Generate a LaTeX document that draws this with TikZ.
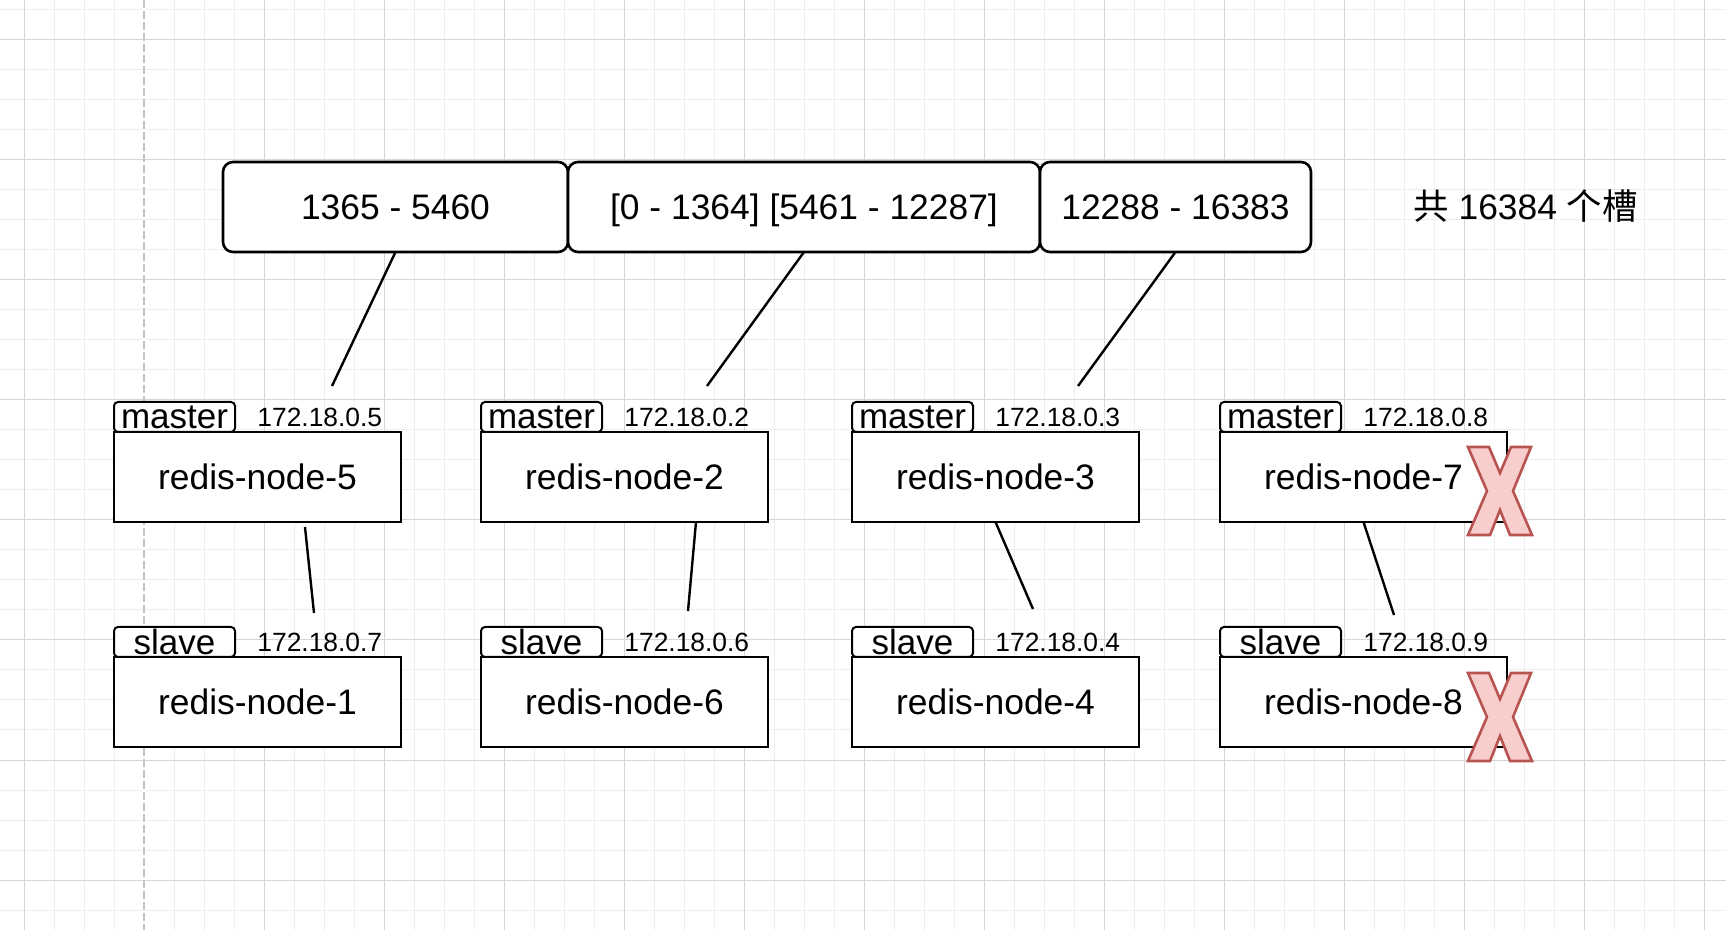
\documentclass[tikz,border=0pt]{standalone}
\usepackage{fontspec}
\setmainfont{Liberation Sans}
\newfontfamily\cjk{Noto Sans CJK SC}
\usepackage{tikz}
\usetikzlibrary{positioning, calc}
\definecolor{gridmajor}{RGB}{214,214,214}
\definecolor{gridminor}{RGB}{238,238,238}
\definecolor{pageedge}{RGB}{196,196,196}
\definecolor{downfill}{RGB}{248,206,204}
\definecolor{downline}{RGB}{184,84,80}
\tikzset{
  slots/.style={rectangle, draw, fill=white, line width=1.3pt, rounded corners=5pt,
    minimum height=45pt, outer sep=0pt, font=\fontsize{17.7}{21}\selectfont},
  redis/.style={rectangle, draw, fill=white, line width=1.3pt, minimum width=143.5pt,
    minimum height=45pt, outer sep=0pt, font=\fontsize{17.7}{21}\selectfont},
  role/.style={rectangle, draw, fill=white, line width=1pt, rounded corners=2pt,
    minimum width=60.5pt, minimum height=15pt, inner sep=0pt, outer sep=0pt,
    text height=12pt, text depth=0pt, font=\fontsize{17.5}{21}\selectfont},
  addr/.style={inner sep=0pt, font=\fontsize{13.2}{16}\selectfont},
  link/.style={line width=1.2pt},
  down/.style={draw=downline, fill=downfill, line width=1.3pt, line join=miter},
}

\begin{document}
\begin{tikzpicture}[x=0.5pt, y=-0.5pt, node distance=0pt]
\useasboundingbox (0,0) rectangle (1726,930);

% background grid
\foreach \gx in {-6,24,...,1734} \draw[gridminor, line width=0.5pt] (\gx,0) -- (\gx,930);
\foreach \gy in {10,40,...,940} \draw[gridminor, line width=0.5pt] (0,\gy) -- (1726,\gy);
\foreach \gx in {24,144,...,1704} \draw[gridmajor, line width=0.5pt] (\gx,0) -- (\gx,930);
\foreach \gy in {40,160,...,880} \draw[gridmajor, line width=0.5pt] (0,\gy) -- (1726,\gy);
\draw[white, line width=1pt] (144,0) -- (144,930);
\draw[pageedge, line width=1pt, dash pattern=on 4pt off 1.5pt] (144,0) -- (144,930);

% slot ranges
\node[slots, minimum width=172.5pt] (r1) at (395.5,207) {1365 - 5460};
\node[slots, minimum width=236pt, text depth=0pt, right=of r1] (r2) {[0 - 1364] [5461 - 12287]};
\node[slots, minimum width=135.5pt, right=of r2] (r3) {12288 - 16383};
\node[font=\fontsize{17.7}{21}\selectfont] (total) at (1525.5,206) {{\cjk 共} 16384 {\cjk 个槽}};

% masters
\node[redis] (n5) at (257.5,477) {redis-node-5};
\node[redis] (n2) at (624.5,477) {redis-node-2};
\node[redis] (n3) at (995.5,477) {redis-node-3};
\node[redis] (n7) at (1363.5,477) {redis-node-7};
\node[role, above right=of n5.north west] (t5) {master};
\node[role, above right=of n2.north west] (t2) {master};
\node[role, above right=of n3.north west] (t3) {master};
\node[role, above right=of n7.north west] (t7) {master};
\node[addr, right=11pt of t5] (ip5) {172.18.0.5};
\node[addr, right=11pt of t2] (ip2) {172.18.0.2};
\node[addr, right=11pt of t3] (ip3) {172.18.0.3};
\node[addr, right=11pt of t7] (ip7) {172.18.0.8};

% slaves
\node[redis] (n1) at (257.5,702) {redis-node-1};
\node[redis] (n6) at (624.5,702) {redis-node-6};
\node[redis] (n4) at (995.5,702) {redis-node-4};
\node[redis] (n8) at (1363.5,702) {redis-node-8};
\node[role, above right=of n1.north west] (t1) {slave};
\node[role, above right=of n6.north west] (t6) {slave};
\node[role, above right=of n4.north west] (t4) {slave};
\node[role, above right=of n8.north west] (t8) {slave};
\node[addr, right=11pt of t1] (ip1) {172.18.0.7};
\node[addr, right=11pt of t6] (ip6) {172.18.0.6};
\node[addr, right=11pt of t4] (ip4) {172.18.0.4};
\node[addr, right=11pt of t8] (ip8) {172.18.0.9};

% slots -> masters
\coordinate (up5) at (332,386);
\coordinate (up2) at (707,386);
\coordinate (up3) at (1078,386);
\draw[link] (r1.south) -- (up5);
\draw[link] (r2.south) -- (up2);
\draw[link] (r3.south) -- (up3);

% masters -> slaves
\coordinate (lo1) at (314,613);
\coordinate (lo6) at (688,611);
\coordinate (lo4) at (1033,609);
\coordinate (lo8) at (1394,615);
\draw[link] ($(n5.south)+(47.5,5)$) -- (lo1);
\draw[link] ($(n2.south)+(71.5,0)$) -- (lo6);
\draw[link] (n3.south) -- (lo4);
\draw[link] (n7.south) -- (lo8);

% node 7 and node 8 are down
\foreach \dy in {0,226}
  \draw[down, shift={(0,\dy)}] (1468,447) -- (1489,447) -- (1500,473) -- (1511,447)
    -- (1531,447) -- (1513,491) -- (1532,535) -- (1510,535) -- (1500,510)
    -- (1490,535) -- (1468,535) -- (1487,491) -- cycle;

\end{tikzpicture}
\end{document}
